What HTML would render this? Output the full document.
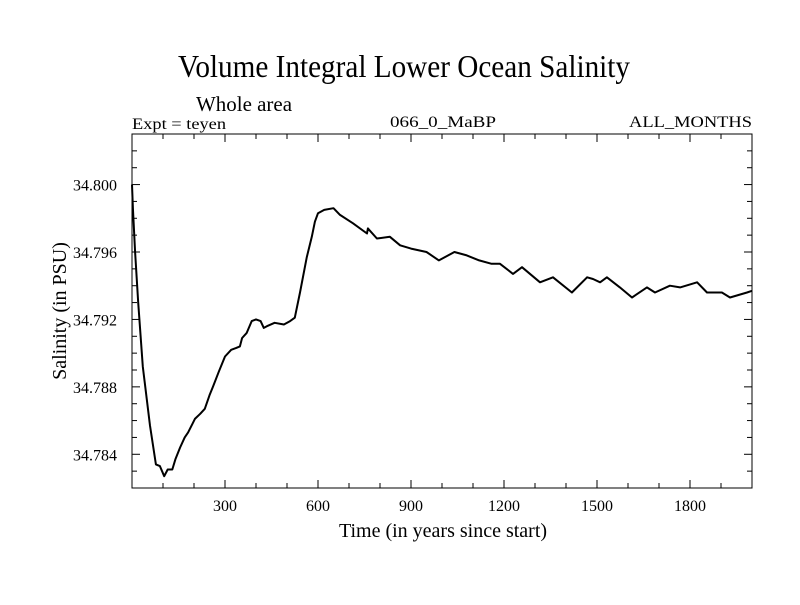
<!DOCTYPE html>
<html><head><meta charset="utf-8"><style>
html,body{margin:0;padding:0;background:#fff;}
svg text{font-family:"Liberation Serif",serif;fill:#000;}
</style></head><body>
<svg id="chart" width="800" height="600" xmlns="http://www.w3.org/2000/svg">
<rect width="800" height="600" fill="#fff"/>
<text x="178" y="77" font-size="32" textLength="452" lengthAdjust="spacingAndGlyphs">Volume Integral Lower Ocean Salinity</text>
<text x="196" y="111" font-size="21" textLength="96" lengthAdjust="spacingAndGlyphs">Whole area</text>
<text x="132" y="129" font-size="16" textLength="94" lengthAdjust="spacingAndGlyphs">Expt = teyen</text>
<text x="390" y="127" font-size="16" textLength="106" lengthAdjust="spacingAndGlyphs">066_0_MaBP</text>
<text x="629" y="127" font-size="16" textLength="123" lengthAdjust="spacingAndGlyphs">ALL_MONTHS</text>
<g id="axes"></g>
<path id="series" fill="none" stroke="#000" stroke-width="2" stroke-linejoin="round"/>
<rect x="132" y="134" width="620" height="354" fill="none" stroke="#000" stroke-width="1"/>
<text x="443" y="537" font-size="20" text-anchor="middle">Time (in years since start)</text>
<text transform="translate(66,311) rotate(-90)" font-size="20" text-anchor="middle">Salinity (in PSU)</text>
</svg>
<script>
const years = [0,3,10,20,35,58,77,90,104,115,130,140,155,170,181,195,203,220,235,250,261,280,300,320,335,348,355,370,386,400,415,425,435,460,490,510,525,542,564,580,590,600,620,650,671,713,758,761,790,832,865,900,950,990,1040,1080,1120,1160,1187,1229,1258,1316,1358,1419,1468,1487,1510,1532,1574,1613,1661,1687,1735,1768,1823,1855,1903,1929,1984,2000];
const salinity = [34.8000,34.7986,34.7960,34.7930,34.7892,34.7857,34.7834,34.7833,34.7827,34.7831,34.7831,34.7837,34.7844,34.7850,34.7853,34.7858,34.7861,34.7864,34.7867,34.7875,34.7880,34.7889,34.7898,34.7902,34.7903,34.7904,34.7909,34.7912,34.7919,34.7920,34.7919,34.7915,34.7916,34.7918,34.7917,34.7919,34.7921,34.7936,34.7957,34.7969,34.7978,34.7983,34.7985,34.7986,34.7982,34.7977,34.7971,34.7974,34.7968,34.7969,34.7964,34.7962,34.7960,34.7955,34.7960,34.7958,34.7955,34.7953,34.7953,34.7947,34.7951,34.7942,34.7945,34.7936,34.7945,34.7944,34.7942,34.7945,34.7939,34.7933,34.7939,34.7936,34.7940,34.7939,34.7942,34.7936,34.7936,34.7933,34.7936,34.7937];
const xTickLabels = [300,600,900,1200,1500,1800];
const yTickLabels = ["34.784","34.788","34.792","34.796","34.800"];

const X0=132,X1=752,Y0=488,Y1=134;
const xMin=0,xMax=2000,yMin=34.782,yMax=34.803;
function xs(v){return X0+(v-xMin)/(xMax-xMin)*(X1-X0);}
function ys(v){return Y0-(v-yMin)/(yMax-yMin)*(Y0-Y1);}
const NS="http://www.w3.org/2000/svg";
const axes=document.getElementById('axes');
function line(x1,y1,x2,y2,name){
  const l=document.createElementNS(NS,'line');
  l.setAttribute('x1',x1);l.setAttribute('y1',y1);l.setAttribute('x2',x2);l.setAttribute('y2',y2);
  l.setAttribute('stroke','#000');l.setAttribute('stroke-width','1');
  
  
  axes.appendChild(l);
}
for(let t=100;t<xMax;t+=100){
  const x=xs(t), len=(t%300===0)?8:5;
  line(x,Y0,x,Y0-len,'x-tick');
  line(x,Y1,x,Y1+len,'x-tick-top');
}
for(let i=1;i<21;i++){
  const v=yMin+i*0.001, y=ys(v), major=(i%4===2);
  const len=major?8:5;
  line(X0,y,X0+len,y,'y-tick');
  line(X1,y,X1-len,y,'y-tick-right');
}
xTickLabels.forEach(t=>{
  const tx=document.createElementNS(NS,'text');
  tx.setAttribute('x',xs(t));tx.setAttribute('y',511);
  tx.setAttribute('font-size','16');tx.setAttribute('text-anchor','middle');
  tx.textContent=t;
  
  
  axes.appendChild(tx);
});
yTickLabels.forEach(s=>{
  const tx=document.createElementNS(NS,'text');
  tx.setAttribute('x',117);tx.setAttribute('y',ys(parseFloat(s))+6);
  tx.setAttribute('font-size','16');tx.setAttribute('text-anchor','end');
  tx.textContent=s;
  
  
  axes.appendChild(tx);
});
let d='';
years.forEach((yr,i)=>{d+=(i?'L':'M')+xs(yr).toFixed(1)+','+ys(salinity[i]).toFixed(1);});
document.getElementById('series').setAttribute('d',d);
</script>
</body></html>
